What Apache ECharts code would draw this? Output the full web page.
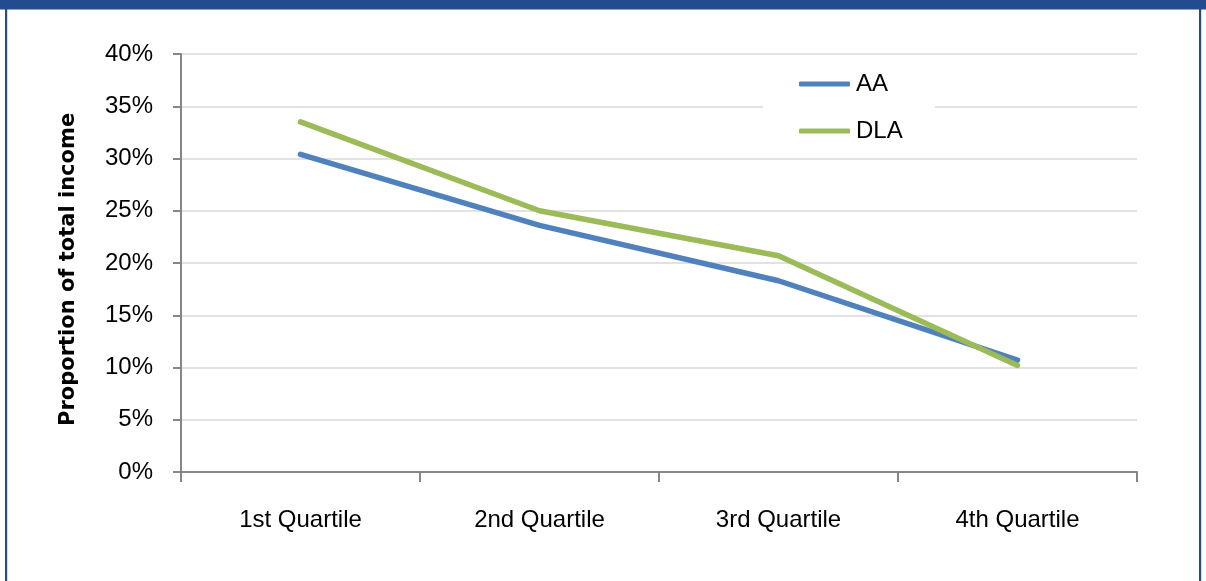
<!DOCTYPE html>
<html>
<head>
<meta charset="utf-8">
<style>
  html, body { margin: 0; padding: 0; background: #ffffff; }
  #chart { width: 1206px; height: 581px; }
</style>
<script src="https://cdn.jsdelivr.net/npm/echarts@6/dist/echarts.min.js"></script>
</head>
<body>
<div id="chart"></div>
<script>
// Income share by quartile for the two groups
const categories = ['1st Quartile', '2nd Quartile', '3rd Quartile', '4th Quartile'];
const aaValues  = [30.4, 23.6, 18.3, 10.7];
const dlaValues = [33.5, 25.0, 20.7, 10.2];
const seriesNames = ['AA', 'DLA'];
const yAxisTitle = 'Proportion of total income';

const FONT = '"Liberation Sans", Arial, sans-serif';
const AXIS_GREY = '#868686';
const GRID_GREY = '#d9d9d9';
const FRAME_BLUE = '#234b8f';

const chart = echarts.init(document.getElementById('chart'), null, { renderer: 'canvas' });

chart.setOption({
  animation: false,
  backgroundColor: '#ffffff',
  grid: { left: 181, right: 69, top: 54, bottom: 109, containLabel: false },
  graphic: [
    // frame: heavy top band with thin side rules
    { type: 'rect', shape: { x: 0, y: 0, width: 1206, height: 9.5 }, style: { fill: FRAME_BLUE }, z: 100 },
    { type: 'rect', shape: { x: 5, y: 0, width: 2.2, height: 581 }, style: { fill: FRAME_BLUE }, z: 100 },
    { type: 'rect', shape: { x: 1199, y: 0, width: 2.2, height: 581 }, style: { fill: FRAME_BLUE }, z: 100 },
    // rotated y-axis title, reading bottom to top
    {
      type: 'text',
      x: 58,
      y: 426,
      rotation: Math.PI / 2,
      style: {
        text: yAxisTitle,
        font: 'bold 21px "DejaVu Sans", sans-serif',
        fill: '#000000'
      },
      z: 50
    }
  ],
  legend: {
    orient: 'vertical',
    left: 763,
    top: 62,
    padding: [10, 32, 10, 36],
    backgroundColor: '#ffffff',
    itemWidth: 51,
    itemHeight: 5,
    itemGap: 23,
    icon: 'roundRect',
    textStyle: { fontFamily: FONT, fontSize: 24, color: '#000000', lineHeight: 24, padding: [0, 0, 0, 1] },
    data: seriesNames,
    z: 20
  },
  xAxis: {
    type: 'category',
    data: categories,
    boundaryGap: true,
    axisLine: { show: true, lineStyle: { color: AXIS_GREY, width: 2 } },
    axisTick: { show: true, alignWithLabel: false, length: 10, lineStyle: { color: AXIS_GREY, width: 2 } },
    axisLabel: { fontFamily: FONT, fontSize: 24, color: '#000000', margin: 36 },
    splitLine: { show: false }
  },
  yAxis: {
    type: 'value',
    min: 0,
    max: 40,
    interval: 5,
    axisLine: { show: true, lineStyle: { color: AXIS_GREY, width: 2 } },
    axisTick: { show: true, length: 8, lineStyle: { color: AXIS_GREY, width: 2 } },
    axisLabel: { fontFamily: FONT, fontSize: 24, color: '#000000', margin: 28, formatter: '{value}%' },
    splitLine: { show: true, lineStyle: { color: GRID_GREY, width: 1.5 } }
  },
  series: [
    {
      name: seriesNames[0],
      type: 'line',
      data: aaValues,
      symbol: 'none',
      color: '#4f81bd',
      lineStyle: { color: '#4f81bd', width: 5.5, cap: 'round', join: 'round' },
      z: 3
    },
    {
      name: seriesNames[1],
      type: 'line',
      data: dlaValues,
      symbol: 'none',
      color: '#9bbb59',
      lineStyle: { color: '#9bbb59', width: 5.5, cap: 'round', join: 'round' },
      z: 4
    }
  ]
});
</script>
</body>
</html>
